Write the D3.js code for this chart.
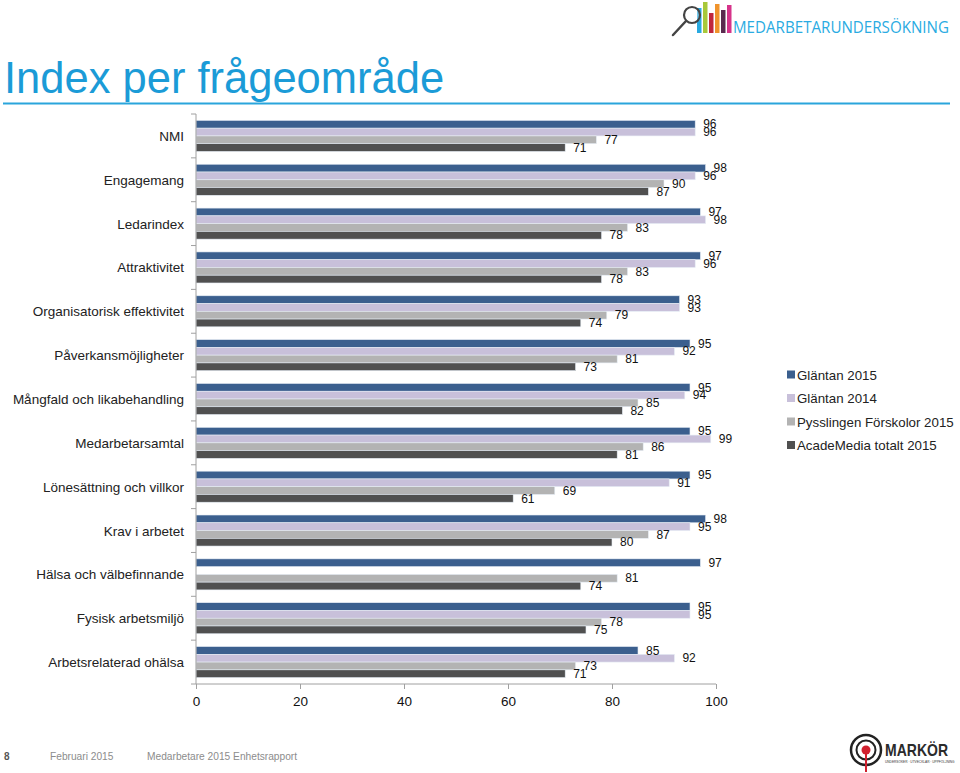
<!DOCTYPE html>
<html><head><meta charset="utf-8">
<script src="https://cdn.jsdelivr.net/npm/d3@7"></script>
<style>body{margin:0;background:#fff}svg{display:block}</style>
</head><body>
<svg id="c" width="960" height="773"></svg>
<script>
const categories = ["NMI","Engagemang","Ledarindex","Attraktivitet","Organisatorisk effektivitet","Påverkansmöjligheter","Mångfald och likabehandling","Medarbetarsamtal","Lönesättning och villkor","Krav i arbetet","Hälsa och välbefinnande","Fysisk arbetsmiljö","Arbetsrelaterad ohälsa"];
const seriesNames = ["Gläntan 2015","Gläntan 2014","Pysslingen Förskolor 2015","AcadeMedia totalt 2015"];
const glantan2015 = [96,98,97,97,93,95,95,95,95,98,97,95,85];
const glantan2014 = [96,96,98,96,93,92,94,99,91,95,null,95,92];
const pysslingen2015 = [77,90,83,83,79,81,85,86,69,87,81,78,73];
const academedia2015 = [71,87,78,78,74,73,82,81,61,80,74,75,71];
const xTicks = [0,20,40,60,80,100];
const colors = ["#3B5F8E","#C8C0DA","#B3B3B3","#505050"];

const seriesValues = [glantan2015, glantan2014, pysslingen2015, academedia2015];
const svg = d3.select("#c");
const F = "Arial, 'Liberation Sans', sans-serif";

// Header title
svg.append("text").attr("x",4).attr("y",93).attr("font-family",F).attr("font-size",43.5)
  .attr("fill","#1B9BD7").text("Index per frågeområde");
svg.append("line").attr("x1",3).attr("x2",950).attr("y1",103.5).attr("y2",103.5)
  .attr("stroke","#2AA5DC").attr("stroke-width",2);

// Top-right logo
const logo = svg.append("g");
const lbars = [["#29A9E0",697,8],["#A8C83A",703,2],["#C0263C",709,13],["#F0932B",715,4],["#5A2A4E",721,10],["#D6338A",727,5]];
lbars.forEach(b=>logo.append("rect").attr("x",b[1]).attr("y",b[2]).attr("width",4.5).attr("height",33-b[2]).attr("fill",b[0]));
logo.append("circle").attr("cx",692).attr("cy",15).attr("r",8).attr("fill","rgba(255,255,255,0.35)").attr("stroke","#444").attr("stroke-width",2.2);
logo.append("line").attr("x1",686).attr("y1",21).attr("x2",673).attr("y2",35).attr("stroke","#444").attr("stroke-width",2.5).attr("stroke-linecap","round");
logo.append("text").attr("x",733).attr("y",33).attr("font-family","'Open Sans', sans-serif").attr("font-size",15.5)
  .attr("fill","#2AABE2").attr("textLength",216).attr("lengthAdjust","spacingAndGlyphs").text("MEDARBETARUNDERSÖKNING");

// Scales
const x = d3.scaleLinear().domain([0,100]).range([196,716]);
const y = d3.scaleBand().domain(categories).range([114,684]).paddingInner(0).paddingOuter(0);
const bandPad = 6.4;
const y1 = d3.scaleBand().domain(seriesNames).range([bandPad, y.bandwidth()-bandPad]);

// Bars
const data = [];
categories.forEach((c,i)=>seriesNames.forEach((s,j)=>{
  const v = seriesValues[j][i];
  if (v!=null) data.push({c,s,j,v});
}));
svg.append("g").selectAll("rect").data(data).join("rect")
  .attr("x",x(0)).attr("y",d=>y(d.c)+y1(d.s))
  .attr("width",d=>x(d.v)-x(0)).attr("height",y1.bandwidth())
  .attr("fill",d=>colors[d.j]).attr("stroke","#E6EDF5").attr("stroke-width",0.6);

svg.append("g").selectAll("text").data(data).join("text")
  .attr("x",d=>x(d.v)+8).attr("y",d=>y(d.c)+y1(d.s)+y1.bandwidth()/2+4.2)
  .attr("font-family",F).attr("font-size",12).attr("fill","#111").text(d=>d.v);

// Axes
const yAxis = svg.append("g");
yAxis.append("line").attr("x1",x(0)).attr("x2",x(0)).attr("y1",114).attr("y2",684).attr("stroke","#A0A0A0");
const bounds = categories.map(c=>y(c)).concat([684]);
yAxis.selectAll("line.t").data(bounds).join("line").attr("class","t")
  .attr("x1",x(0)-5).attr("x2",x(0)).attr("y1",d=>d).attr("y2",d=>d).attr("stroke","#A0A0A0");
yAxis.selectAll("text").data(categories).join("text")
  .attr("x",184).attr("y",d=>y(d)+y.bandwidth()/2+5).attr("text-anchor","end")
  .attr("font-family",F).attr("font-size",13.5).attr("fill","#222").text(d=>d);

const xAxis = svg.append("g").attr("transform","translate(0,684)")
  .call(d3.axisBottom(x).tickValues(xTicks).tickSize(5).tickPadding(7).tickFormat(d3.format("d")));
xAxis.select(".domain").attr("stroke","#A0A0A0").attr("d","M"+x(0)+",0H"+x(100));
xAxis.selectAll(".tick line").attr("stroke","#A0A0A0");
xAxis.selectAll(".tick text").attr("font-family",F).attr("font-size",13.5).attr("fill","#111");

// Legend
const lg = svg.append("g");
seriesNames.forEach((s,i)=>{
  const yy = 375 + i*23.5;
  lg.append("rect").attr("x",787).attr("y",yy-4.5).attr("width",8).attr("height",8).attr("fill",colors[i]);
  lg.append("text").attr("x",797).attr("y",yy+4.8).attr("font-family",F).attr("font-size",13.3).attr("fill","#222").text(s);
});

// Footer
svg.append("text").attr("x",4).attr("y",760).attr("font-family",F).attr("font-size",10).attr("font-weight","bold").attr("fill","#555").text("8");
svg.append("text").attr("x",50).attr("y",760).attr("font-family",F).attr("font-size",10.2).attr("fill","#8C8C8C").text("Februari 2015");
svg.append("text").attr("x",147).attr("y",760).attr("font-family",F).attr("font-size",10.2).attr("fill","#8C8C8C").text("Medarbetare 2015 Enhetsrapport");

// Markör logo
const mk = svg.append("g");
mk.append("circle").attr("cx",866).attr("cy",750).attr("r",15).attr("fill","none").attr("stroke","#222").attr("stroke-width",2.5);
mk.append("circle").attr("cx",866).attr("cy",750).attr("r",9.5).attr("fill","none").attr("stroke","#222").attr("stroke-width",2);
mk.append("line").attr("x1",866).attr("x2",866).attr("y1",750).attr("y2",772).attr("stroke","#D0202E").attr("stroke-width",2);
mk.append("circle").attr("cx",866).attr("cy",750).attr("r",4.5).attr("fill","#D0202E");
mk.append("text").attr("x",885).attr("y",756).attr("font-family",F).attr("font-size",17).attr("font-weight","bold")
  .attr("fill","#2B2B2B").attr("textLength",63).attr("lengthAdjust","spacingAndGlyphs").text("MARKÖR");
mk.append("text").attr("x",885).attr("y",763).attr("font-family",F).attr("font-size",3.2)
  .attr("fill","#333").text("UNDERSÖKER · UTVECKLAR · UPPFÖLJNING");
</script>
</body></html>
